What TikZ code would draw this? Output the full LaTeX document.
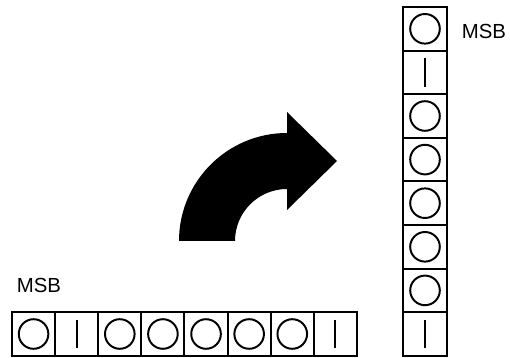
\documentclass[tikz,border=0pt]{standalone}
\usepackage{fontspec}
\setmainfont{Liberation Sans}
\usepackage{tikz}
\usetikzlibrary{positioning}

\begin{document}
\begin{tikzpicture}[
    hcell/.style={draw, line width=1.4pt, minimum width=1.078cm, minimum height=1.1cm, inner sep=0pt, outer sep=0pt},
    vcell/.style={draw, line width=1.4pt, minimum width=1.1cm, minimum height=1.09cm, inner sep=0pt, outer sep=0pt},
    zero/.style={path picture={\draw[line width=1.4pt] (path picture bounding box.center) circle (0.37);}},
    one/.style={path picture={\draw[line width=1.4pt] ([yshift=-0.36cm]path picture bounding box.center) -- ([yshift=0.36cm]path picture bounding box.center);}},
    msb/.style={font=\fontsize{14.5}{16}\selectfont, inner sep=0pt}
  ]
    \useasboundingbox (0,0) rectangle (12.75,8.95);
    % horizontal byte
    \node[hcell, zero] (h1) at (0.839,0.6) {};
    \node[hcell, one, right=0pt of h1] (h2) {};
    \node[hcell, zero, right=0pt of h2] (h3) {};
    \node[hcell, zero, right=0pt of h3] (h4) {};
    \node[hcell, zero, right=0pt of h4] (h5) {};
    \node[hcell, zero, right=0pt of h5] (h6) {};
    \node[hcell, zero, right=0pt of h6] (h7) {};
    \node[hcell, one, right=0pt of h7] (h8) {};
    \node[msb] (msbh) at (0.975,1.825) {MSB};
    % vertical byte
    \node[vcell, zero] (v1) at (10.625,8.23) {};
    \node[vcell, one, below=0pt of v1] (v2) {};
    \node[vcell, zero, below=0pt of v2] (v3) {};
    \node[vcell, zero, below=0pt of v3] (v4) {};
    \node[vcell, zero, below=0pt of v4] (v5) {};
    \node[vcell, zero, below=0pt of v5] (v6) {};
    \node[vcell, zero, below=0pt of v6] (v7) {};
    \node[vcell, one, below=0pt of v7] (v8) {};
    \node[msb] (msbv) at (12.1,8.175) {MSB};
    % turning arrow
    \fill (4.475,2.925) arc (180:90:2.7) -- (7.175,6.15) -- (8.425,4.925) -- (7.175,3.7) -- (7.175,4.225) arc (90:180:1.3) -- cycle;
  \end{tikzpicture}
\end{document}
